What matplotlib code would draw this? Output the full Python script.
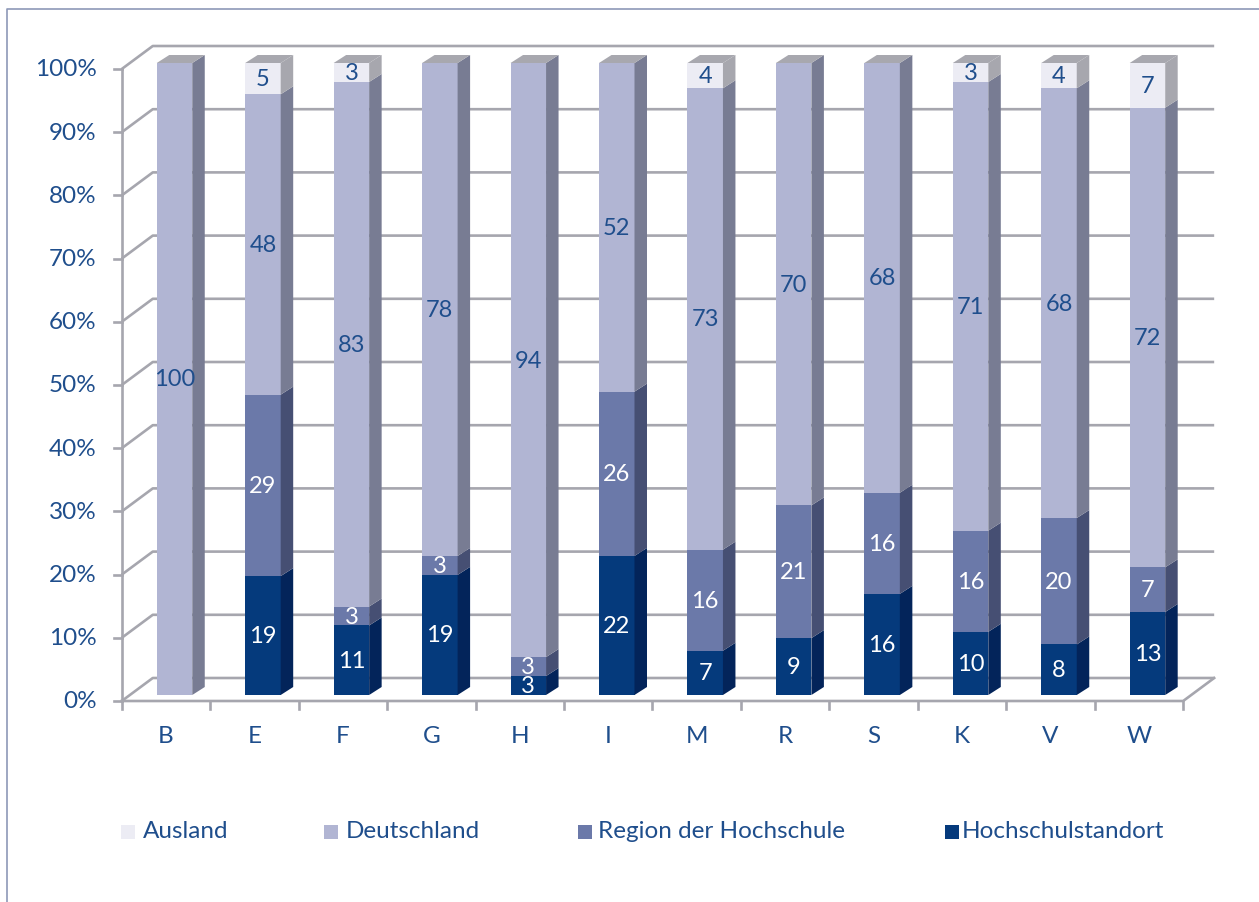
import numpy as np
import matplotlib.pyplot as plt
from matplotlib.patches import Polygon, Rectangle

# Herkunft der Studierenden je Hochschule (Angaben in %)
categories = ["B", "E", "F", "G", "H", "I", "M", "R", "S", "K", "V", "W"]
series_names = ["Hochschulstandort", "Region der Hochschule", "Deutschland", "Ausland"]
hochschulstandort = [0, 19, 11, 19, 3, 22, 7, 9, 16, 10, 8, 13]
region = [0, 29, 3, 3, 3, 26, 16, 21, 16, 16, 20, 7]
deutschland = [100, 48, 83, 78, 94, 52, 73, 70, 68, 71, 68, 72]
ausland = [0, 5, 3, 0, 0, 0, 4, 0, 0, 3, 4, 7]
y_ticks = [0, 10, 20, 30, 40, 50, 60, 70, 80, 90, 100]

# colours: front face, side face, label colour
front_cols = ["#053A7C", "#6B79A9", "#B1B5D3", "#ECECF4"]
side_cols = ["#03245A", "#464F73", "#787C93", "#A7A7AE"]
text_cols = ["white", "white", "#1F4E8C", "#1F4E8C"]
top_col = "#A8A8AF"
grid_col = "#A6A6AE"
label_col = "#1F4E8C"
frame_col = "#8D98B8"

plt.rcParams['font.family'] = ['Lato', 'DejaVu Sans']

W, H = 1259, 903
fig = plt.figure(figsize=(W / 100, H / 100), dpi=100)
ax = fig.add_axes([0, 0, 1, 1])

# pixel geometry of the front plane
x_px0, x_step = 166.0, 88.45
y_px0, y_step = 702.0, 6.32
ax.set_xlim(-x_px0 / x_step, (W - x_px0) / x_step)
ax.set_ylim((y_px0 - H) / y_step, y_px0 / y_step)
ax.axis('off')

# depth offsets in data units
wall_dx, wall_dy = 31 / x_step, 23 / y_step
bar_dx0, bar_dy0 = 8.5 / x_step, 6 / y_step
depth_dx, depth_dy = 12.5 / x_step, 8 / y_step
bar_w = 35.5 / x_step

left, right = -0.5, len(categories) - 0.5

# back wall gridlines
for p in y_ticks:
    ax.plot([left, left + wall_dx, right + wall_dx], [p, p + wall_dy, p + wall_dy],
            color=grid_col, lw=1.9, solid_capstyle='butt', zorder=1)
    ax.plot([left - 8 / x_step, left], [p, p], color=grid_col, lw=1.9, zorder=1)
    ax.text(left - 25 / x_step, p, f"{p}%", ha='right', va='center',
            fontsize=17.5, color=label_col)

# floor front edge and front vertical axis
ax.plot([left, right, right + wall_dx], [0, 0, wall_dy], color=grid_col, lw=1.9, zorder=1)
ax.plot([left, left], [0, 100], color=grid_col, lw=1.9, zorder=1)
for k in range(len(categories) + 1):
    ax.plot([left + k, left + k], [0, -8 / y_step], color=grid_col, lw=1.9, zorder=1)

for i, c in enumerate(categories):
    ax.text(i, -35 / y_step, c, ha='center', va='center', fontsize=17.5, color=label_col)

# stacked pseudo-3D bars
data = np.array([hochschulstandort, region, deutschland, ausland], dtype=float)
totals = data.sum(axis=0)
for i in range(len(categories)):
    x0 = i + bar_dx0 - bar_w / 2
    x1 = x0 + bar_w
    base = bar_dy0
    shares = data[:, i] / totals[i] * 100
    top_idx = max(j for j in range(4) if data[j, i] > 0)
    for j in range(4):
        if data[j, i] <= 0:
            continue
        y0 = base
        y1 = base + shares[j]
        ax.add_patch(Rectangle((x0, y0), bar_w, y1 - y0, facecolor=front_cols[j],
                               edgecolor='none', zorder=3))
        ax.add_patch(Polygon([(x1, y0), (x1 + depth_dx, y0 + depth_dy),
                              (x1 + depth_dx, y1 + depth_dy), (x1, y1)],
                             closed=True, facecolor=side_cols[j], edgecolor='none', zorder=3))
        if j == top_idx:
            ax.add_patch(Polygon([(x0, y1), (x1, y1), (x1 + depth_dx, y1 + depth_dy),
                                  (x0 + depth_dx, y1 + depth_dy)],
                                 closed=True, facecolor=top_col, edgecolor='none', zorder=3))
        ax.text((x0 + x1) / 2, (y0 + y1) / 2, f"{int(data[j, i])}", ha='center',
                va='center', fontsize=17, color=text_cols[j], zorder=4)
        base = y1

# legend
legend_items = [(3, 121, 143), (2, 324, 346), (1, 578, 598), (0, 945, 962)]
for j, bx, tx in legend_items:
    fig.patches.append(Rectangle((bx / W, 1 - 840 / H), 14 / W, 14 / H,
                                 transform=fig.transFigure, facecolor=front_cols[j],
                                 edgecolor='none'))
    fig.text(tx / W, 1 - 832 / H, series_names[j], ha='left', va='center',
             fontsize=17.5, color=label_col)

# outer frame
fig.add_artist(plt.Line2D([7 / W, 7 / W, 1.0], [0.0, 1 - 10 / H, 1 - 10 / H],
                          transform=fig.transFigure, color=frame_col, lw=1.2))

fig.savefig("out.png", dpi=100)
